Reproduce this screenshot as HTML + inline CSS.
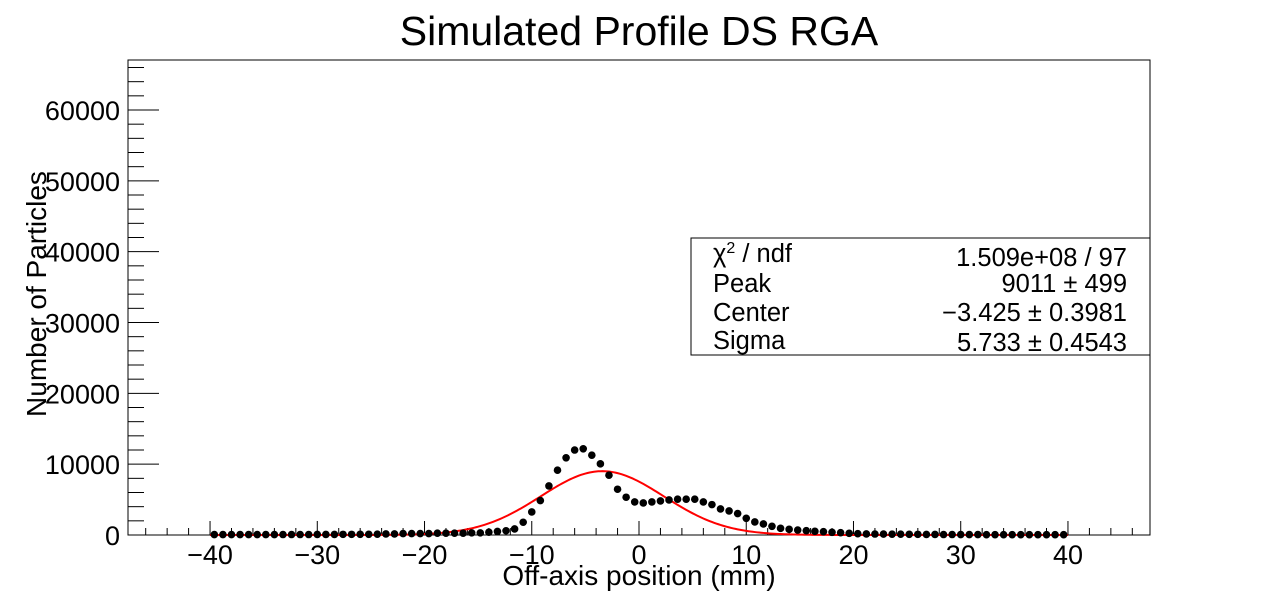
<!DOCTYPE html>
<html><head><meta charset="utf-8"><style>
html,body{margin:0;padding:0;background:#fff;}
svg{display:block;font-family:"Liberation Sans",sans-serif;}
</style></head><body>
<svg id="chart" width="1278" height="594">
<text x="639" y="45" font-size="41" text-anchor="middle">Simulated Profile DS RGA</text>
<rect x="128" y="60" width="1022" height="475" fill="none" stroke="#000" stroke-width="1"/>
<g id="axes"></g>
<g id="curve"></g>
<g id="points"></g>
<text x="639" y="585" font-size="28" text-anchor="middle">Off-axis position (mm)</text>
<text transform="translate(46,294) rotate(-90)" font-size="28" text-anchor="middle">Number of Particles</text>
<g>
<rect x="691" y="238" width="459" height="117" fill="#fff" stroke="#000" stroke-width="1"/>
<g font-size="25.5">
<text x="713" y="262">χ<tspan font-size="16" dy="-9">2</tspan><tspan dy="9"> / ndf</tspan></text>
<text x="1127" y="266" text-anchor="end">1.509e+08 / 97</text>
<text x="713" y="292">Peak</text>
<text x="1127" y="292" text-anchor="end">9011 ±   499</text>
<text x="713" y="321">Center</text>
<text x="1127" y="321" text-anchor="end">−3.425 ± 0.3981</text>
<text x="713" y="349">Sigma</text>
<text x="1127" y="351" text-anchor="end">5.733 ± 0.4543</text>
</g></g>
</svg>
<script>
const binCenters = [];
for (let i = 0; i < 100; i++) binCenters.push(-39.6 + 0.8 * i);
const counts = [60,60,60,60,60,60,60,60,70,70,70,70,80,80,80,90,90,100,100,120,
150,150,200,200,200,200,250,250,250,250,300,300,400,500,600,850,1800,3250,4860,6930,
9150,10900,12000,12170,11270,10050,8440,6460,5330,4670,4530,4670,4810,4950,5050,5050,5050,4670,4290,3680,
3400,3020,2360,1840,1560,1230,940,800,700,610,520,470,380,330,240,190,
150,140,130,120,110,100,90,80,80,70,70,60,60,60,50,50,50,50,40,40,40,40,40,40];
const fitParams = [9011, -3.425, 5.733];
const xTicks = [-40,-30,-20,-10,0,10,20,30,40];
const yTicks = [0,10000,20000,30000,40000,50000,60000];

const X0 = 128, X1 = 1150, Y0 = 535, Y1 = 60;
const xmin = -47.65, xmax = 47.65, ymin = 0, ymax = 67060;
const sx = v => X0 + (v - xmin) / (xmax - xmin) * (X1 - X0);
const sy = v => Y0 - (v - ymin) / (ymax - ymin) * (Y0 - Y1);
const NS = "http://www.w3.org/2000/svg";
function mk(tag, attrs, parent) {
  const e = document.createElementNS(NS, tag);
  for (const k in attrs) e.setAttribute(k, attrs[k]);
  parent.appendChild(e); return e;
}
const axes = document.getElementById('axes');
for (let v = -46; v <= 46; v += 2) {
  const major = v % 10 === 0;
  const t = mk('line', {x1: sx(v), x2: sx(v), y1: Y0, y2: Y0 - (major ? 14 : 7), stroke: '#000'}, axes);
  
  
}
xTicks.forEach(v => {
  const t = mk('text', {x: sx(v), y: 564, 'font-size': 27, 'text-anchor': 'middle'}, axes);
  t.textContent = v < 0 ? '\u2212' + Math.abs(v) : String(v);
  
  
});
for (let v = 0; v <= 66000; v += 2000) {
  const major = v % 10000 === 0;
  const t = mk('line', {x1: X0, x2: X0 + (major ? 31 : 16), y1: sy(v), y2: sy(v), stroke: '#000'}, axes);
  
  
}
yTicks.forEach(v => {
  const t = mk('text', {x: 120, y: sy(v) + 10, 'font-size': 27, 'text-anchor': 'end'}, axes);
  t.textContent = String(v);
  
  
});
let d = '';
for (let x = -40; x <= 40.001; x += 0.2) {
  const y = fitParams[0] * Math.exp(-0.5 * Math.pow((x - fitParams[1]) / fitParams[2], 2));
  d += (d ? 'L' : 'M') + sx(x).toFixed(2) + ',' + sy(y).toFixed(2);
}
const c = mk('path', {d: d, fill: 'none', stroke: '#ff0000', 'stroke-width': 2}, document.getElementById('curve'));


const pg = document.getElementById('points');
binCenters.forEach((x, i) => {
  const p = mk('circle', {cx: sx(x), cy: sy(counts[i]), r: 3.8, fill: '#000'}, pg);
  
  
});
</script>
</body></html>
